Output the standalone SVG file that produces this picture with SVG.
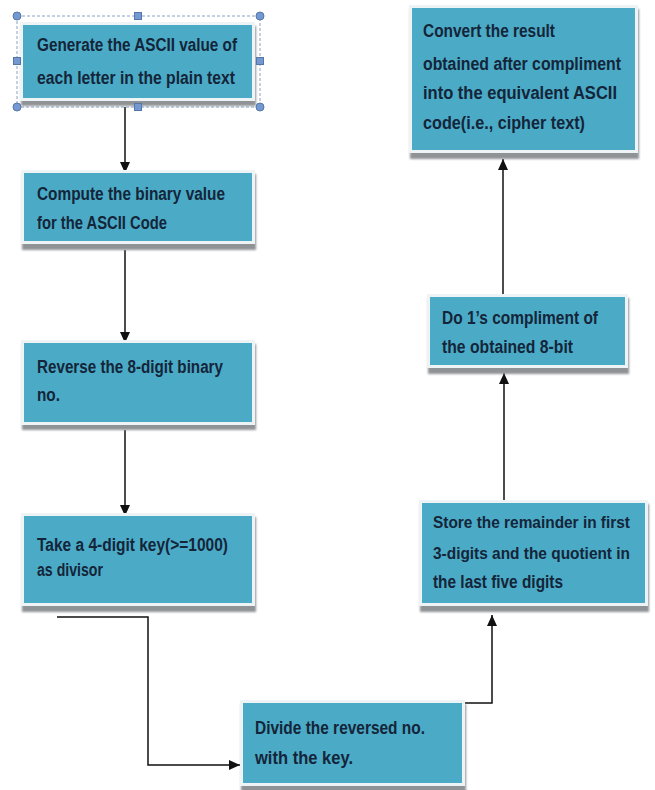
<svg xmlns="http://www.w3.org/2000/svg" width="655" height="790" viewBox="0 0 655 790">
<defs>
<style>
.sh{fill:#8f9396}
.fr{fill:#eef3f6}
.bx{fill:#4babc6}
.t{font-family:"Liberation Sans",Arial,sans-serif;font-weight:bold;font-size:18px;fill:#14253a}
.s{font-size:16px}
.c{fill:none;stroke:#111;stroke-width:1.5}
.sel{fill:none;stroke:#8aa2c2;stroke-width:1;stroke-dasharray:3,2}
.hd{fill:#7499d2;stroke:#5577a8;stroke-width:1}
</style>
<marker id="ah" markerUnits="userSpaceOnUse" markerWidth="12" markerHeight="12" refX="11" refY="5" orient="auto">
<path d="M0,0 L11,5 L0,10 Z" fill="#111"/>
</marker>
<filter id="bl" x="-5%" y="-5%" width="110%" height="115%"><feGaussianBlur stdDeviation="1"/></filter>
</defs>
<rect width="655" height="790" fill="#fff"/>

<g id="connectors">
<path class="c" d="M125,107 V173" marker-end="url(#ah)"/>
<path class="c" d="M125,250 V343" marker-end="url(#ah)"/>
<path class="c" d="M125,430 V516" marker-end="url(#ah)"/>
<path class="c" d="M57,617 H148 V765 H240" marker-end="url(#ah)"/>
<path class="c" d="M463,788 V703 H492 V615" marker-end="url(#ah)"/>
<path class="c" d="M504,503 V373" marker-end="url(#ah)"/>
<path class="c" d="M503,294 V159" marker-end="url(#ah)"/>
</g>

<g id="n1">
<rect class="sh" x="21" y="26" width="235" height="80" filter="url(#bl)"/>
<rect class="fr" x="20" y="22" width="235" height="79"/>
<rect class="bx" x="23" y="25" width="229" height="73"/>
<text class="t" x="37" y="51" textLength="200" lengthAdjust="spacingAndGlyphs">Generate the ASCII value of</text>
<text class="t" x="37" y="84" textLength="198" lengthAdjust="spacingAndGlyphs">each letter in the plain text</text>
<rect class="sel" x="17" y="16" width="243" height="91"/>
<circle class="hd" cx="17" cy="16" r="4"/>
<circle class="hd" cx="260" cy="16" r="4"/>
<circle class="hd" cx="17" cy="107" r="4"/>
<circle class="hd" cx="260" cy="107" r="4"/>
<rect class="hd" x="134.5" y="12.5" width="7" height="7"/>
<rect class="hd" x="134.5" y="103.5" width="7" height="7"/>
<rect class="hd" x="13.5" y="57.5" width="7" height="7"/>
<rect class="hd" x="256.5" y="57.5" width="7" height="7"/>
</g>

<g id="n2">
<rect class="sh" x="22" y="174" width="234" height="76" filter="url(#bl)"/>
<rect class="fr" x="21" y="170" width="234" height="74"/>
<rect class="bx" x="24" y="173" width="228" height="68"/>
<text class="t" x="37" y="200" textLength="188" lengthAdjust="spacingAndGlyphs">Compute the binary value</text>
<text class="t" x="37" y="229" textLength="130" lengthAdjust="spacingAndGlyphs">for the ASCII Code</text>
</g>

<g id="n3">
<rect class="sh" x="22" y="344" width="234" height="86" filter="url(#bl)"/>
<rect class="fr" x="21" y="340" width="234" height="85"/>
<rect class="bx" x="24" y="343" width="228" height="79"/>
<text class="t" x="37" y="373" textLength="186" lengthAdjust="spacingAndGlyphs">Reverse the 8-digit binary</text>
<text class="t" x="37" y="401" textLength="23" lengthAdjust="spacingAndGlyphs">no.</text>
</g>

<g id="n4">
<rect class="sh" x="22" y="517" width="234" height="95" filter="url(#bl)"/>
<rect class="fr" x="21" y="513" width="234" height="93"/>
<rect class="bx" x="24" y="516" width="228" height="87"/>
<text class="t" x="37" y="551" textLength="191" lengthAdjust="spacingAndGlyphs">Take a 4-digit key(&gt;=1000)</text>
<text class="t" x="37" y="576" textLength="66" lengthAdjust="spacingAndGlyphs">as divisor</text>
</g>

<g id="n5">
<rect class="sh" x="241" y="704" width="225" height="88" filter="url(#bl)"/>
<rect class="fr" x="240" y="700" width="225" height="86"/>
<rect class="bx" x="243" y="703" width="219" height="80"/>
<text class="t" x="255" y="734" textLength="170" lengthAdjust="spacingAndGlyphs">Divide the reversed no.</text>
<text class="t" x="255" y="764" textLength="98" lengthAdjust="spacingAndGlyphs">with the key.</text>
</g>

<g id="n6">
<rect class="sh" x="420" y="504" width="229" height="108" filter="url(#bl)"/>
<rect class="fr" x="419" y="500" width="229" height="106"/>
<rect class="bx" x="422" y="503" width="223" height="100"/>
<text class="t s" x="433" y="528" textLength="197" lengthAdjust="spacingAndGlyphs">Store the remainder in first</text>
<text class="t s" x="433" y="559" textLength="197" lengthAdjust="spacingAndGlyphs">3-digits and the quotient in</text>
<text class="t" x="433" y="588" textLength="130" lengthAdjust="spacingAndGlyphs">the last five digits</text>
</g>

<g id="n7">
<rect class="sh" x="428" y="298" width="201" height="76" filter="url(#bl)"/>
<rect class="fr" x="427" y="294" width="201" height="74"/>
<rect class="bx" x="430" y="297" width="195" height="68"/>
<text class="t" x="442" y="324" textLength="156" lengthAdjust="spacingAndGlyphs">Do 1’s compliment of</text>
<text class="t" x="442" y="353" textLength="131" lengthAdjust="spacingAndGlyphs">the obtained 8-bit</text>
</g>

<g id="n8">
<rect class="sh" x="410" y="9" width="229" height="150" filter="url(#bl)"/>
<rect class="fr" x="409" y="5" width="229" height="148"/>
<rect class="bx" x="412" y="8" width="223" height="142"/>
<text class="t" x="423" y="37" textLength="132" lengthAdjust="spacingAndGlyphs">Convert the result</text>
<text class="t" x="423" y="70" textLength="198" lengthAdjust="spacingAndGlyphs">obtained after compliment</text>
<text class="t" x="423" y="99" textLength="194" lengthAdjust="spacingAndGlyphs">into the equivalent ASCII</text>
<text class="t" x="423" y="129" textLength="162" lengthAdjust="spacingAndGlyphs">code(i.e., cipher text)</text>
</g>
</svg>
